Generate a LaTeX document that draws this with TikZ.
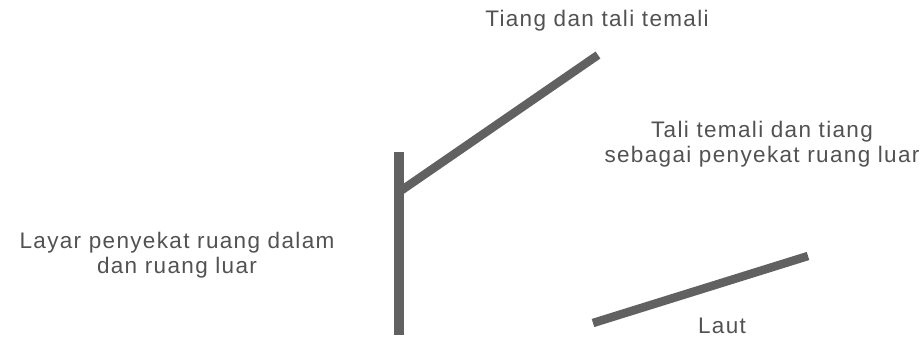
\documentclass[tikz,border=0pt]{standalone}
\usepackage{fontspec}
\setmainfont{Liberation Sans}[LetterSpace=6]
\begin{document}
\begin{tikzpicture}[x=1pt,y=-1pt,
  lbl/.style={font=\fontsize{22.5}{25}\selectfont, text=black!68, inner sep=0pt, align=center},
  bar/.style={draw=black!62, line width=#1},
  bar/.default=8.5pt]
\useasboundingbox (0,0) rectangle (924,343);
% structure
\coordinate (mastTop) at (399,152);
\coordinate (mastBot) at (399,335);
\coordinate (rigLow) at (399,192);
\coordinate (rigTop) at (598,55);
\coordinate (seaL) at (593,323);
\coordinate (seaR) at (808,256);
\draw[bar=10pt] (mastTop) -- (mastBot);
\draw[bar] (rigLow) -- (rigTop);
\draw[bar] (seaL) -- (seaR);
% labels
\node[lbl] (tiang) at (597,21) {Tiang dan tali temali};
\node[lbl] (tali) at (762,144) {Tali temali dan tiang\\sebagai penyekat ruang luar};
\node[lbl] (layar) at (177,255) {Layar penyekat ruang dalam\\dan ruang luar};
\node[lbl] (laut) at (722,326) {Laut};
\end{tikzpicture}
\end{document}
